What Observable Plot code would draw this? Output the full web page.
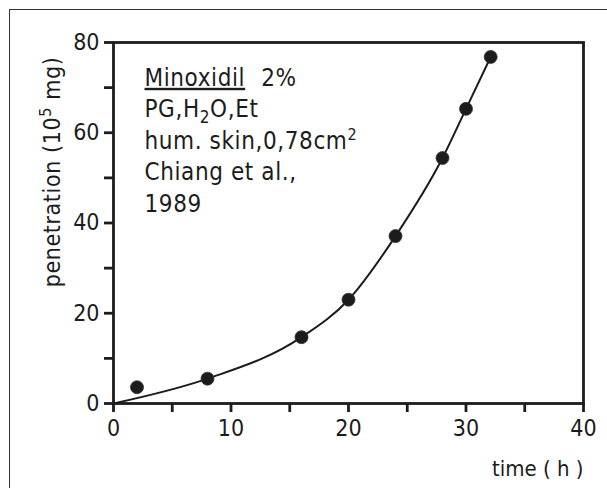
<!DOCTYPE html>
<html><head><meta charset="utf-8">
<script src="https://cdn.jsdelivr.net/npm/d3@7"></script>
<script src="https://cdn.jsdelivr.net/npm/@observablehq/plot@0.6"></script>
<style>
html,body{margin:0;padding:0;background:#fff;}
#wrap{position:relative;width:607px;height:488px;overflow:hidden;background:#fff;}
#border{position:absolute;left:9px;top:9px;width:640px;height:520px;border-left:1.6px solid #333;border-top:1.6px solid #333;pointer-events:none;}
svg{display:block;}
</style></head><body><div id="wrap"><div id="border"></div></div>
<script>
// measured points
const times = [2, 8, 16, 20, 24, 28, 30, 32.1];
const penetration = [3.6, 5.5, 14.7, 23.0, 37.1, 54.4, 65.3, 76.8];
// fitted curve (drawn through origin and the points)
const fitTimes = [0, 8, 16, 20, 24, 28, 30, 32.1];
const fitValues = [0, 5.5, 14.7, 23.0, 37.1, 54.4, 65.3, 76.8];
// ticks
const xTicks = [0, 5, 10, 15, 20, 25, 30, 35, 40];
const xLabels = [0, 10, 20, 30, 40];
const yTicks = [0, 10, 20, 30, 40, 50, 60, 70, 80];
const yLabels = [0, 20, 40, 60, 80];
// texts
const xTitle = "time ( h )";
const yTitle = "penetration (105 mg)";
const noteLines = ["Minoxidil 2%", "PG,H2O,Et", "hum. skin,0,78cm2", "Chiang et al.,", "1989"];

const points = times.map((t, i) => ({t, p: penetration[i]}));
const fit = fitTimes.map((t, i) => ({t, p: fitValues[i]}));
const ink = "#1c1c1c";
const font = "'DejaVu Sans Condensed', 'DejaVu Sans', sans-serif";

const chart = Plot.plot({
  width: 607, height: 488,
  marginLeft: 113, marginRight: 24, marginTop: 42, marginBottom: 85,
  x: {domain: [0, 40], label: null},
  y: {domain: [0, 80], label: null},
  style: {fontFamily: font, fontStretch: "condensed", fontSize: "23px", color: ink, background: "transparent", overflow: "visible"},
  marks: [
    Plot.axisX(xTicks, {tickSize: 9, tickPadding: 7, strokeWidth: 2.8, stroke: ink, fontSize: 23, label: null,
      tickFormat: d => xLabels.includes(d) ? String(d) : ""}),
    Plot.axisY(yTicks, {tickSize: 9, tickPadding: 5, strokeWidth: 2.8, stroke: ink, fontSize: 23, label: null,
      tickFormat: d => yLabels.includes(d) ? String(d) : ""}),
    Plot.frame({stroke: ink, strokeWidth: 2.8}),
    Plot.line(fit, {x: "t", y: "p", curve: "monotone-x", stroke: ink, strokeWidth: 2}),
    Plot.dot(points, {x: "t", y: "p", r: 6.5, fill: ink, stroke: "#333", strokeWidth: 0.8}),
    Plot.text([noteLines.join("\n")], {text: d => d, frameAnchor: "top-left", dx: 31, dy: 21,
      textAnchor: "start", lineAnchor: "top", lineHeight: 1.31, fontSize: 24, fill: ink}),
    Plot.text([yTitle], {text: d => d, frameAnchor: "left", rotate: -90, dx: -61, dy: -51,
      textAnchor: "middle", lineAnchor: "middle", fontSize: 23, fill: ink}),
    Plot.text([xTitle], {text: d => d, frameAnchor: "bottom-right", dx: 0, dy: 65,
      textAnchor: "end", lineAnchor: "middle", fontSize: 22, fill: ink})
  ]
});
document.getElementById("wrap").prepend(chart);
const textGroups = chart.querySelectorAll("g[aria-label='text'] text");
textGroups.forEach(n => n.setAttribute("letter-spacing", "0.6"));
textGroups[textGroups.length - 1].setAttribute("letter-spacing", "0");

// rich text: sub/superscripts and underline (baseline-shift keeps line positions intact)
function rich(str, parts) {
  const nodes = Array.from(chart.querySelectorAll("text, tspan"))
    .filter(n => n.children.length === 0 && n.textContent === str);
  for (const node of nodes) {
    const sel = d3.select(node);
    sel.text(null);
    for (const p of parts) {
      const t = sel.append("tspan").text(p.t);
      if (p.shift) t.attr("baseline-shift", p.shift);
      if (p.size) t.attr("font-size", p.size);
      if (p.dx) t.attr("dx", p.dx);
      if (p.u) t.attr("text-decoration", "underline");
    }
  }
}
rich(noteLines[0], [{t: "Minoxidil", u: true}, {t: "2%", dx: 16}]);
rich(noteLines[1], [{t: "PG,H"}, {t: "2", shift: -6, size: 17}, {t: "O,Et"}]);
rich(noteLines[2], [{t: "hum. skin,0,78cm"}, {t: "2", shift: 9, size: 16}]);
rich(yTitle, [{t: "penetration (10"}, {t: "5", shift: 9, size: 16}, {t: " mg)"}]);
</script></body></html>
